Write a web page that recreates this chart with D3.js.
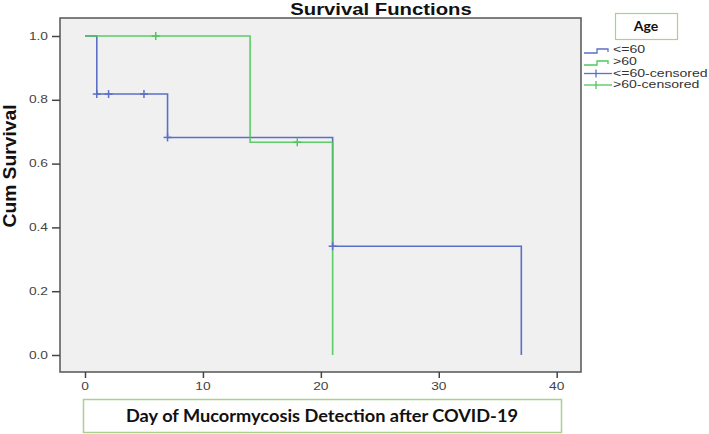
<!DOCTYPE html>
<html>
<head>
<meta charset="utf-8">
<script src="https://cdn.jsdelivr.net/npm/d3@7"></script>
<style>
html,body{margin:0;padding:0;background:#fff;}
svg{display:block;}
</style>
</head>
<body>
<svg id="chart" width="709" height="434"></svg>
<script>
// ---- data ----
const groups = ["<=60", ">60"];
const stepTimesLE60 = [0, 1, 7, 21, 37];
const stepSurvLE60  = [1, 0.818, 0.682, 0.341, 0];
const censTimesLE60 = [1, 2, 5, 7, 21];
const stepTimesGT60 = [0, 14, 21];
const stepSurvGT60  = [1, 0.667, 0];
const censTimesGT60 = [6, 18];
const xTicks = [0, 10, 20, 30, 40];
const yTicks = [0.0, 0.2, 0.4, 0.6, 0.8, 1.0];
const legendLabels = ["<=60", ">60", "<=60-censored", ">60-censored"];
const colors = {"<=60": "#5b6fc6", ">60": "#4cc85a"};

const svg = d3.select("#chart");
const x = d3.scaleLinear().domain([0, 40]).range([85, 556.7]);
const y = d3.scaleLinear().domain([0, 1]).range([355, 36]);
const frame = {l: 60, r: 581, t: 18, b: 372};
const SX = 1.25;

function stretchedText(g, tx, ty, txt, opts) {
  const t = g.append("text")
    .attr("transform", `translate(${tx},${ty}) scale(${opts.sx || SX},1)` + (opts.rot ? ` rotate(${opts.rot})` : ""))
    .attr("font-family", opts.family || "'Liberation Sans', Arial, sans-serif")
    .attr("font-size", opts.size || 11)
    .attr("font-weight", opts.weight || "normal")
    .attr("fill", opts.fill || "#444")
    .attr("text-anchor", opts.anchor || "start")
    .attr("dominant-baseline", opts.baseline || "auto")
    .text(txt);
  if (opts.len) t.attr("textLength", opts.len).attr("lengthAdjust", "spacingAndGlyphs");
  return t;
}

// plot background + frame
svg.append("rect")
  .attr("x", frame.l).attr("y", frame.t)
  .attr("width", frame.r - frame.l).attr("height", frame.b - frame.t)
  .attr("fill", "#f0f0f0").attr("stroke", "#555").attr("stroke-width", 1.5);

// axes
const yAxis = svg.append("g").attr("transform", `translate(${frame.l},0)`)
  .call(d3.axisLeft(y).tickValues(yTicks).tickSize(8).tickFormat(""));
yAxis.select(".domain").remove();
yAxis.selectAll(".tick line").attr("stroke", "#444").attr("stroke-width", 1.5);
yTicks.forEach(v => {
  stretchedText(svg, 48, y(v), d3.format(".1f")(v), {anchor: "end", baseline: "central", size: 11});
});

const xAxis = svg.append("g").attr("transform", `translate(0,${frame.b})`)
  .call(d3.axisBottom(x).tickValues(xTicks).tickSize(6).tickFormat(""));
xAxis.select(".domain").remove();
xAxis.selectAll(".tick line").attr("stroke", "#444").attr("stroke-width", 1.5);
xTicks.forEach(v => {
  stretchedText(svg, x(v), 386, String(v), {anchor: "middle", baseline: "central", size: 11});
});

// survival step curves
function survAt(times, surv, t) {
  let s = surv[0];
  for (let i = 0; i < times.length; i++) if (times[i] <= t) s = surv[i];
  return s;
}
const line = d3.line().x(d => x(d[0])).y(d => y(d[1])).curve(d3.curveStepAfter);
const series = [
  {name: "<=60", times: stepTimesLE60, surv: stepSurvLE60, cens: censTimesLE60},
  {name: ">60", times: stepTimesGT60, surv: stepSurvGT60, cens: censTimesGT60}
];
series.forEach(s => {
  const pts = s.times.map((t, i) => [t, s.surv[i]]);
  svg.append("path").attr("d", line(pts))
    .attr("fill", "none").attr("stroke", colors[s.name]).attr("stroke-width", 1.6)
    .attr("opacity", s.name === ">60" ? 0.9 : 1);
});
series.forEach(s => {
  const g = svg.append("g").attr("stroke", colors[s.name]).attr("stroke-width", 1.5);
  s.cens.forEach(t => {
    const cx = x(t), cy = y(survAt(s.times, s.surv, t));
    g.append("line").attr("x1", cx - 4).attr("x2", cx + 4).attr("y1", cy).attr("y2", cy);
    g.append("line").attr("x1", cx).attr("x2", cx).attr("y1", cy - 4).attr("y2", cy + 4);
  });
});

// title
stretchedText(svg, 381, 15, "Survival Functions", {anchor: "middle", size: 16, weight: "bold", fill: "#111", sx: 1.27});

// y-axis title
stretchedText(svg, 16, 166, "Cum Survival", {anchor: "middle", size: 15, weight: "bold", fill: "#111", sx: 1.2, rot: -90, len: 123});

// legend
svg.append("rect").attr("x", 615.5).attr("y", 13.5).attr("width", 62).attr("height", 26)
  .attr("fill", "#fff").attr("stroke", "#a9d18e").attr("stroke-width", 1.2);
svg.append("text").attr("x", 646).attr("y", 31).attr("text-anchor", "middle")
  .attr("font-family", "Lato, 'Open Sans', sans-serif").attr("font-weight", "bold")
  .attr("font-size", 14).attr("fill", "#111").text("Age");

const rowY = [50, 62, 73.5, 85];
legendLabels.forEach((lab, i) => {
  const col = colors[groups[i % 2]];
  const cy = rowY[i];
  if (i < 2) {
    svg.append("path")
      .attr("d", `M584,${cy + 3}H597V${cy - 1}H608V${cy + 2}`)
      .attr("fill", "none").attr("stroke", col).attr("stroke-width", 1.3);
  } else {
    svg.append("line").attr("x1", 584).attr("x2", 612).attr("y1", cy).attr("y2", cy)
      .attr("stroke", col).attr("stroke-width", 1.3);
    svg.append("line").attr("x1", 596).attr("x2", 596).attr("y1", cy - 4).attr("y2", cy + 4)
      .attr("stroke", col).attr("stroke-width", 1.3);
  }
  stretchedText(svg, 613, cy, lab, {baseline: "central", size: 11, fill: "#333", sx: 1.28});
});

// x-axis title box
svg.append("rect").attr("x", 83.5).attr("y", 399.5).attr("width", 478).attr("height", 33)
  .attr("fill", "#fff").attr("stroke", "#a9d18e").attr("stroke-width", 1.5);
svg.append("text").attr("x", 322).attr("y", 422).attr("text-anchor", "middle")
  .attr("font-family", "Lato, 'Open Sans', sans-serif").attr("font-weight", "bold")
  .attr("font-size", 16.5).attr("fill", "#111")
  .attr("textLength", 392).attr("lengthAdjust", "spacingAndGlyphs")
  .text("Day of Mucormycosis Detection after COVID-19");
</script>
</body>
</html>
